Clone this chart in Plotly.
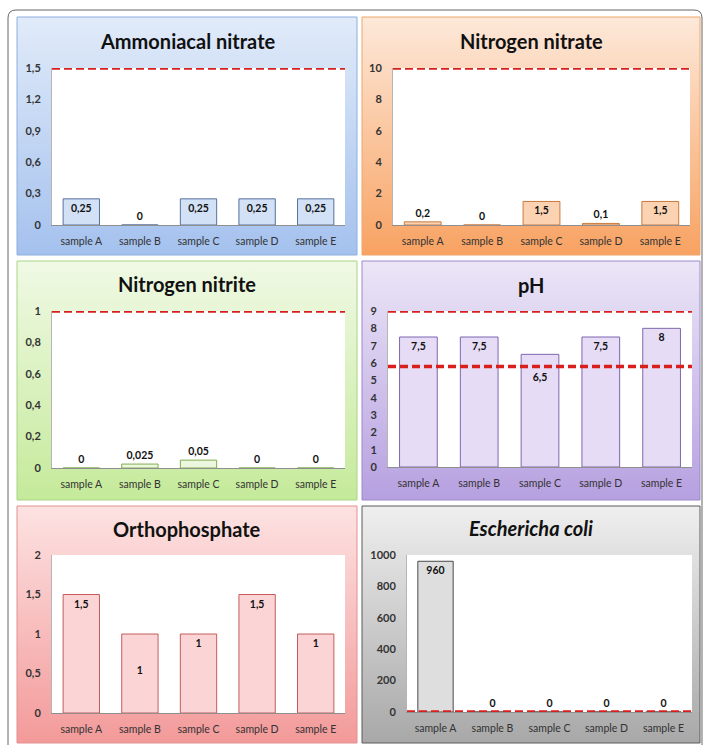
import plotly.graph_objects as go

W, H = 704, 745

# ---------------- data ----------------
categories = ["sample A", "sample B", "sample C", "sample D", "sample E"]
ammoniacal_nitrate = [0.25, 0, 0.25, 0.25, 0.25]
nitrogen_nitrate = [0.2, 0, 1.5, 0.1, 1.5]
nitrogen_nitrite = [0, 0.025, 0.05, 0, 0]
ph_values = [7.5, 7.5, 6.5, 7.5, 8]
orthophosphate = [1.5, 1, 1, 1.5, 1]
e_coli = [960, 0, 0, 0, 0]

titles = ["Ammoniacal nitrate", "Nitrogen nitrate", "Nitrogen nitrite", "pH",
          "Orthophosphate", "<i>Eschericha coli</i>"]
series = [ammoniacal_nitrate, nitrogen_nitrate, nitrogen_nitrite, ph_values,
          orthophosphate, e_coli]
limits = [[1.5], [10], [1], [9, 5.8], [], [0]]
y_max = [1.5, 10, 1, 9, 2, 1000]
y_dtick = [0.3, 2, 0.2, 1, 0.5, 200]

# ---------------- style ----------------
# (top colour, bottom colour, border, bar fill, bar outline)
styles = [
    ("#e1ebf9", "#a4c1ee", "#8eaee0", "#d3e1f6", "#56719c"),
    ("#fde9da", "#f8a262", "#eea668", "#fbd3b3", "#c9793c"),
    ("#f0f9e5", "#c5ea9a", "#a9d486", "#edf7e0", "#80ae4c"),
    ("#ece6f7", "#b6a0e0", "#9c88c9", "#e6dcf6", "#7d67ad"),
    ("#fde2e2", "#f39a9a", "#e38f8f", "#fbd5d5", "#c45c5c"),
    ("#efefef", "#a8a8a8", "#5a5a5a", "#dedede", "#4a4a4a"),
]
panel_box = [(17, 17, 357, 255), (362, 17, 700, 255),
             (17, 261, 357, 500), (362, 261, 700, 500),
             (17, 506, 357, 743), (362, 506, 700, 743)]
plot_box = [(52, 68, 345, 225), (393, 68, 690, 225),
            (52, 311, 345, 468), (388, 311, 692, 467),
            (52, 555, 345, 713), (407, 555, 692, 712)]
title_y = [41, 41, 284, 285, 529, 528]
# extra blank lines pushing a few inside labels lower, as in the original
label_drop = {(3, 2): 1, (4, 1): 2}

FONT = "Lato"


def fx(px):
    return px / W


def fy(py):
    return 1 - py / H


def fmt(v):
    return ("%g" % v).replace(".", ",")


fig = go.Figure()
layout = {}
shapes = []
annotations = []

# background panels (axes 1..6)
for i, (x0, y0, x1, y1) in enumerate(panel_box):
    n = i + 1
    sfx = "" if n == 1 else str(n)
    top, bottom, border, _, _ = styles[i]
    fig.add_trace(go.Scatter(
        x=[0, 1, 1, 0, 0], y=[0, 0, 1, 1, 0], mode="lines", fill="toself",
        line=dict(width=0, color="rgba(0,0,0,0)"),
        fillgradient=dict(type="vertical", colorscale=[[0, bottom], [1, top]],
                          start=0, stop=1),
        hoverinfo="skip", showlegend=False,
        xaxis="x" + sfx, yaxis="y" + sfx))
    layout["xaxis" + sfx] = dict(domain=[fx(x0), fx(x1)], range=[0, 1],
                                 visible=False, fixedrange=True, automargin=False)
    layout["yaxis" + sfx] = dict(domain=[fy(y1), fy(y0)], range=[0, 1],
                                 visible=False, fixedrange=True, automargin=False)
    shapes.append(dict(type="rect", xref="paper", yref="paper",
                       x0=fx(x0), x1=fx(x1), y0=fy(y1), y1=fy(y0),
                       line=dict(color=border, width=1), layer="above"))
    annotations.append(dict(text="<b>%s</b>" % titles[i], xref="paper", yref="paper",
                            x=fx((x0 + x1) / 2), y=fy(title_y[i]),
                            xanchor="center", yanchor="middle", showarrow=False,
                            font=dict(family=FONT, size=20, color="#111111")))

# data panels (axes 7..12)
for i, (x0, y0, x1, y1) in enumerate(plot_box):
    n = i + 7
    sfx = str(n)
    _, _, _, barfill, barline = styles[i]
    vals = series[i]
    plot_h = y1 - y0
    positions, texts = [], []
    for j, v in enumerate(vals):
        inside = v / y_max[i] * plot_h >= 16
        positions.append("inside" if inside else "outside")
        texts.append("\u00a0<br>" * label_drop.get((i, j), 0) + fmt(v))
    fig.add_trace(go.Bar(
        x=categories, y=vals, text=texts,
        textposition=positions, insidetextanchor="end", constraintext="none",
        textfont=dict(family=FONT, size=10.5, color="#111111", weight="bold"),
        insidetextfont=dict(family=FONT, size=10.5, color="#111111", weight="bold"),
        outsidetextfont=dict(family=FONT, size=10.5, color="#111111", weight="bold"),
        cliponaxis=False,
        marker=dict(color=barfill, line=dict(color=barline, width=1)),
        hoverinfo="x+y", showlegend=False,
        xaxis="x" + sfx, yaxis="y" + sfx))
    layout["xaxis" + sfx] = dict(
        domain=[fx(x0), fx(x1)], anchor="y" + sfx, type="category",
        showline=True, linecolor="#8f8f8f", linewidth=1, showgrid=False,
        ticks="", ticklabelstandoff=6, automargin=False,
        tickfont=dict(family=FONT, size=10.5, color="#333333"), fixedrange=True)
    layout["yaxis" + sfx] = dict(
        domain=[fy(y1), fy(y0)], anchor="x" + sfx, range=[0, y_max[i]],
        tick0=0, dtick=y_dtick[i], showline=True, linecolor="#b5b5b5",
        linewidth=1, showgrid=False, zeroline=False, ticks="",
        ticklabelstandoff=8, automargin=False,
        tickfont=dict(family=FONT, size=11, color="#333333", weight="bold"),
        fixedrange=True)
    for lim in limits[i]:
        shapes.append(dict(type="line", xref="x%d domain" % n, yref="y%d" % n,
                           x0=0, x1=1, y0=lim, y1=lim,
                           line=dict(color="#d91e1e", width=3.5, dash="8px,4px"),
                           layer="above"))

# outer rounded frame
r = 8
L, T, R, B = 8, 10, 702, 760
path = "M %f %f Q %f %f %f %f L %f %f Q %f %f %f %f L %f %f L %f %f Z" % (
    fx(L), fy(T + r), fx(L), fy(T), fx(L + r), fy(T),
    fx(R - r), fy(T), fx(R), fy(T), fx(R), fy(T + r),
    fx(R), fy(B), fx(L), fy(B))
shapes.insert(0, dict(type="path", xref="paper", yref="paper", path=path,
                      line=dict(color="#666666", width=1), layer="below"))

fig.update_layout(
    width=W, height=H,
    margin=dict(l=0, r=0, t=0, b=0, pad=0, autoexpand=False),
    paper_bgcolor="white", plot_bgcolor="white",
    separators=",.", bargap=0.38, showlegend=False,
    font=dict(family=FONT, color="#333333"),
    shapes=shapes, annotations=annotations, **layout)

fig.write_html(
    "out.html",
    config={"displayModeBar": False, "responsive": False},
    post_script=(
        "var gd=document.getElementById('{plot_id}');"
        "document.documentElement.style.margin='0';"
        "document.documentElement.style.padding='0';"
        "document.documentElement.style.overflow='hidden';"
        "document.body.style.margin='0';"
        "document.body.style.padding='0';"
        "document.body.style.overflow='hidden';"
        "gd.style.position='fixed';gd.style.left='0px';gd.style.top='0px';"
    ))
